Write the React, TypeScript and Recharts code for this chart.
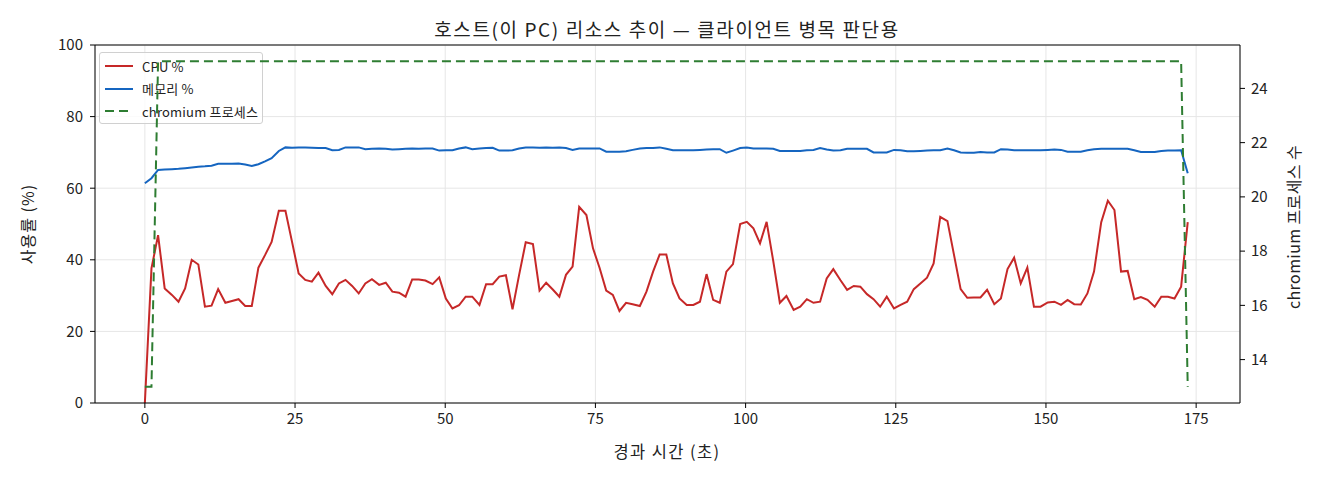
import React from "react";
import { CartesianGrid, Line, LineChart, ReferenceLine, XAxis, YAxis } from "recharts";

if (typeof document !== "undefined") {
  document.body.style.margin = "0";
}

// elapsed seconds for each sample
const times = [
  0, 1.1, 2.2, 3.3, 4.5, 5.6, 6.7, 7.8, 8.9, 10.0,
  11.1, 12.2, 13.4, 14.5, 15.6, 16.7, 17.8, 18.9, 20.0, 21.1,
  22.3, 23.4, 24.5, 25.6, 26.7, 27.8, 28.9, 30.1, 31.2, 32.3,
  33.4, 34.5, 35.6, 36.7, 37.8, 39.0, 40.1, 41.2, 42.3, 43.4,
  44.5, 45.6, 46.7, 47.9, 49.0, 50.1, 51.2, 52.3, 53.4, 54.5,
  55.7, 56.8, 57.9, 59.0, 60.1, 61.2, 62.3, 63.4, 64.6, 65.7,
  66.8, 67.9, 69.0, 70.1, 71.2, 72.3, 73.5, 74.6, 75.7, 76.8,
  77.9, 79.0, 80.1, 81.2, 82.4, 83.5, 84.6, 85.7, 86.8, 87.9,
  89.0, 90.2, 91.3, 92.4, 93.5, 94.6, 95.7, 96.8, 97.9, 99.1,
  100.2, 101.3, 102.4, 103.5, 104.6, 105.7, 106.8, 108.0, 109.1, 110.2,
  111.3, 112.4, 113.5, 114.6, 115.8, 116.9, 118.0, 119.1, 120.2, 121.3,
  122.4, 123.5, 124.7, 125.8, 126.9, 128.0, 129.1, 130.2, 131.3, 132.4,
  133.6, 134.7, 135.8, 136.9, 138.0, 139.1, 140.2, 141.4, 142.5, 143.6,
  144.7, 145.8, 146.9, 148.0, 149.1, 150.3, 151.4, 152.5, 153.6, 154.7,
  155.8, 156.9, 158.0, 159.2, 160.3, 161.4, 162.5, 163.6, 164.7, 165.8,
  166.9, 168.1, 169.2, 170.3, 171.4, 172.5, 173.6,
];

const cpuPct = [
  0, 37.6, 46.9, 32.0, 30.2, 28.3, 32.0, 40.0, 38.7, 26.9,
  27.2, 31.8, 28.0, 28.5, 29.0, 27.1, 27.1, 37.8, 41.3, 45.0,
  53.7, 53.7, 45.0, 36.2, 34.4, 33.9, 36.4, 32.7, 30.4, 33.4,
  34.4, 32.7, 30.6, 33.4, 34.6, 33.0, 33.6, 31.1, 30.8, 29.7,
  34.5, 34.5, 34.2, 33.2, 35.1, 29.2, 26.4, 27.3, 29.7, 29.7,
  27.4, 33.2, 33.2, 35.3, 35.7, 26.2, 35.8, 44.9, 44.4, 31.4,
  33.6, 31.7, 29.7, 35.8, 38.1, 54.8, 52.5, 43.2, 37.7, 31.4,
  30.2, 25.7, 28.0, 27.6, 27.1, 31.1, 36.7, 41.5, 41.5, 33.4,
  29.2, 27.4, 27.4, 28.3, 36.0, 28.8, 28.0, 36.7, 38.8, 50.0,
  50.6, 48.8, 44.6, 50.6, 39.7, 28.0, 29.9, 26.0, 26.9, 29.0,
  28.0, 28.3, 34.8, 37.4, 34.3, 31.6, 32.7, 32.5, 30.4, 29.0,
  26.9, 29.7, 26.4, 27.4, 28.3, 31.8, 33.4, 35.0, 39.0, 52.0,
  50.8, 41.3, 31.8, 29.4, 29.5, 29.5, 31.6, 27.6, 29.2, 37.4,
  40.6, 33.4, 37.8, 26.9, 26.9, 28.1, 28.3, 27.4, 28.8, 27.6,
  27.5, 30.6, 36.7, 50.5, 56.5, 53.9, 36.7, 36.9, 29.0, 29.6,
  28.8, 26.9, 29.7, 29.7, 29.2, 32.5, 50.5,
];

const memPct = [
  61.4, 62.8, 65.1, 65.2, 65.3, 65.4, 65.6, 65.8, 66.0, 66.1,
  66.3, 66.8, 66.8, 66.8, 66.9, 66.6, 66.2, 66.7, 67.5, 68.4,
  70.4, 71.4, 71.3, 71.4, 71.4, 71.3, 71.2, 71.2, 70.6, 70.7,
  71.4, 71.4, 71.4, 70.9, 71.0, 71.1, 71.0, 70.8, 70.9, 71.0,
  71.1, 71.0, 71.1, 71.1, 70.5, 70.6, 70.6, 71.1, 71.4, 70.9,
  71.1, 71.2, 71.3, 70.5, 70.5, 70.6, 71.1, 71.4, 71.4, 71.3,
  71.4, 71.3, 71.4, 71.2, 70.7, 71.1, 71.1, 71.1, 71.1, 70.2,
  70.2, 70.2, 70.3, 70.7, 71.1, 71.2, 71.2, 71.4, 71.0, 70.6,
  70.6, 70.6, 70.6, 70.7, 70.8, 70.9, 70.9, 69.9, 70.5, 71.2,
  71.4, 71.1, 71.1, 71.1, 71.0, 70.4, 70.4, 70.4, 70.4, 70.6,
  70.7, 71.2, 70.8, 70.5, 70.6, 71.0, 71.0, 71.0, 71.0, 70.0,
  70.0, 70.0, 70.7, 70.6, 70.3, 70.3, 70.4, 70.5, 70.6, 70.6,
  71.1, 70.6, 70.0, 69.9, 69.9, 70.1, 70.0, 70.0, 70.9, 70.8,
  70.6, 70.6, 70.6, 70.6, 70.6, 70.7, 70.8, 70.7, 70.2, 70.2,
  70.2, 70.6, 70.9, 71.0, 71.0, 71.0, 71.0, 71.0, 70.6, 70.1,
  70.1, 70.1, 70.4, 70.5, 70.5, 70.6, 64.2,
];

const chromiumCount = [
  13, 13, 25, 25, 25, 25, 25, 25, 25, 25,
  25, 25, 25, 25, 25, 25, 25, 25, 25, 25,
  25, 25, 25, 25, 25, 25, 25, 25, 25, 25,
  25, 25, 25, 25, 25, 25, 25, 25, 25, 25,
  25, 25, 25, 25, 25, 25, 25, 25, 25, 25,
  25, 25, 25, 25, 25, 25, 25, 25, 25, 25,
  25, 25, 25, 25, 25, 25, 25, 25, 25, 25,
  25, 25, 25, 25, 25, 25, 25, 25, 25, 25,
  25, 25, 25, 25, 25, 25, 25, 25, 25, 25,
  25, 25, 25, 25, 25, 25, 25, 25, 25, 25,
  25, 25, 25, 25, 25, 25, 25, 25, 25, 25,
  25, 25, 25, 25, 25, 25, 25, 25, 25, 25,
  25, 25, 25, 25, 25, 25, 25, 25, 25, 25,
  25, 25, 25, 25, 25, 25, 25, 25, 25, 25,
  25, 25, 25, 25, 25, 25, 25, 25, 25, 25,
  25, 25, 25, 25, 25, 25, 13,
];

const xTicks = [0, 25, 50, 75, 100, 125, 150, 175];
const pctTicks = [0, 20, 40, 60, 80, 100];
const procTicks = [14, 16, 18, 20, 22, 24];

const TITLE = "호스트(이 PC) 리소스 추이 — 클라이언트 병목 판단용";
const X_LABEL = "경과 시간 (초)";
const LEFT_LABEL = "사용률 (%)";
const RIGHT_LABEL = "chromium 프로세스 수";
const LEGEND_ITEMS = [
  { label: "CPU %", color: "#c62828", dash: undefined },
  { label: "메모리 %", color: "#1565c0", dash: undefined },
  { label: "chromium 프로세스", color: "#2e7d32", dash: "9 5" },
];

const rows = times.map((t, i) => ({
  t,
  cpu: cpuPct[i],
  mem: memPct[i],
  procs: chromiumCount[i],
}));

const W = 1320;
const H = 480;
const FONT = "'Noto Sans CJK KR', 'Noto Sans', sans-serif";
const X_DOMAIN: [number, number] = [-8.3, 182.3];
const PROC_DOMAIN: [number, number] = [12.4, 25.6];
const tickStyle = { fontSize: 15, fill: "#222", fontFamily: FONT };

function Legend() {
  return (
    <div
      style={{
        position: "absolute",
        left: 99,
        top: 52,
        width: 164,
        height: 72,
        border: "1px solid #d0d0d0",
        borderRadius: 3,
        background: "rgba(255,255,255,0.8)",
        fontFamily: FONT,
        fontSize: 13,
        color: "#222",
        boxSizing: "border-box",
        zIndex: 1,
      }}
    >
      {LEGEND_ITEMS.map((item, i) => (
        <div
          key={item.label}
          style={{ position: "absolute", left: 4, top: 4 + i * 22.5, height: 18, display: "flex", alignItems: "center" }}
        >
          <svg width={30} height={18}>
            <line x1={1} x2={29} y1={9} y2={9} stroke={item.color} strokeWidth={2} strokeDasharray={item.dash} />
          </svg>
          <span style={{ marginLeft: 8, whiteSpace: "nowrap", letterSpacing: 0.2 }}>{item.label}</span>
        </div>
      ))}
    </div>
  );
}

export default function App() {
  return (
    <div style={{ position: "relative", width: W, height: H, background: "#fff", overflow: "hidden" }}>
      <div style={{ position: "absolute", left: 0, top: 0, zIndex: 0 }}>
        <LineChart width={W} height={H} data={rows} margin={{ top: 45, right: 0, bottom: 0, left: 0 }}>
          <CartesianGrid stroke="#e6e6e6" strokeWidth={1} yAxisId="left" />
          <XAxis
            dataKey="t"
            type="number"
            domain={X_DOMAIN}
            ticks={xTicks}
            allowDataOverflow
            height={77}
            stroke="#000"
            tickSize={5}
            tickMargin={5}
            tick={tickStyle}
          />
          <YAxis
            yAxisId="left"
            domain={[0, 100]}
            ticks={pctTicks}
            width={95}
            stroke="#000"
            tickSize={5}
            tickMargin={7}
            tick={tickStyle}
          />
          <YAxis
            yAxisId="right"
            orientation="right"
            domain={PROC_DOMAIN}
            ticks={procTicks}
            allowDataOverflow
            width={80}
            stroke="#000"
            tickSize={5}
            tickMargin={6}
            tick={tickStyle}
          />
          <ReferenceLine yAxisId="left" y={100} stroke="#000" strokeWidth={1} ifOverflow="visible" />
          <Line
            yAxisId="left"
            type="linear"
            dataKey="cpu"
            stroke="#c62828"
            strokeWidth={2}
            dot={false}
            isAnimationActive={false}
          />
          <Line
            yAxisId="left"
            type="linear"
            dataKey="mem"
            stroke="#1565c0"
            strokeWidth={2}
            dot={false}
            isAnimationActive={false}
          />
          <Line
            yAxisId="right"
            type="linear"
            dataKey="procs"
            stroke="#2e7d32"
            strokeOpacity={0}
            dot={false}
            isAnimationActive={false}
          />
        </LineChart>
      </div>

      <Legend />

      <div style={{ position: "absolute", left: 0, top: 0, zIndex: 2 }}>
        <LineChart width={W} height={H} data={rows} margin={{ top: 45, right: 80, bottom: 77, left: 95 }}>
          <XAxis dataKey="t" type="number" domain={X_DOMAIN} allowDataOverflow hide />
          <YAxis yAxisId="right" domain={PROC_DOMAIN} allowDataOverflow hide />
          <Line
            yAxisId="right"
            type="linear"
            dataKey="procs"
            stroke="#2e7d32"
            strokeWidth={2}
            strokeDasharray="9 5"
            dot={false}
            isAnimationActive={false}
          />
        </LineChart>
      </div>

      <svg
        width={W}
        height={H}
        style={{ position: "absolute", left: 0, top: 0, zIndex: 3, pointerEvents: "none" }}
        fontFamily={FONT}
        fill="#222"
      >
        <text x={667} y={28} fontSize={19} letterSpacing={1.6} textAnchor="middle" dominantBaseline="central">
          {TITLE}
        </text>
        <text x={667} y={451} fontSize={16.5} letterSpacing={1.4} textAnchor="middle" dominantBaseline="central">
          {X_LABEL}
        </text>
        <text
          x={27}
          y={224}
          fontSize={16}
          letterSpacing={1}
          textAnchor="middle"
          dominantBaseline="central"
          transform="rotate(-90 27 224)"
        >
          {LEFT_LABEL}
        </text>
        <text
          x={1293}
          y={227}
          fontSize={16}
          letterSpacing={0.4}
          textAnchor="middle"
          dominantBaseline="central"
          transform="rotate(-90 1293 227)"
        >
          {RIGHT_LABEL}
        </text>
      </svg>
    </div>
  );
}
